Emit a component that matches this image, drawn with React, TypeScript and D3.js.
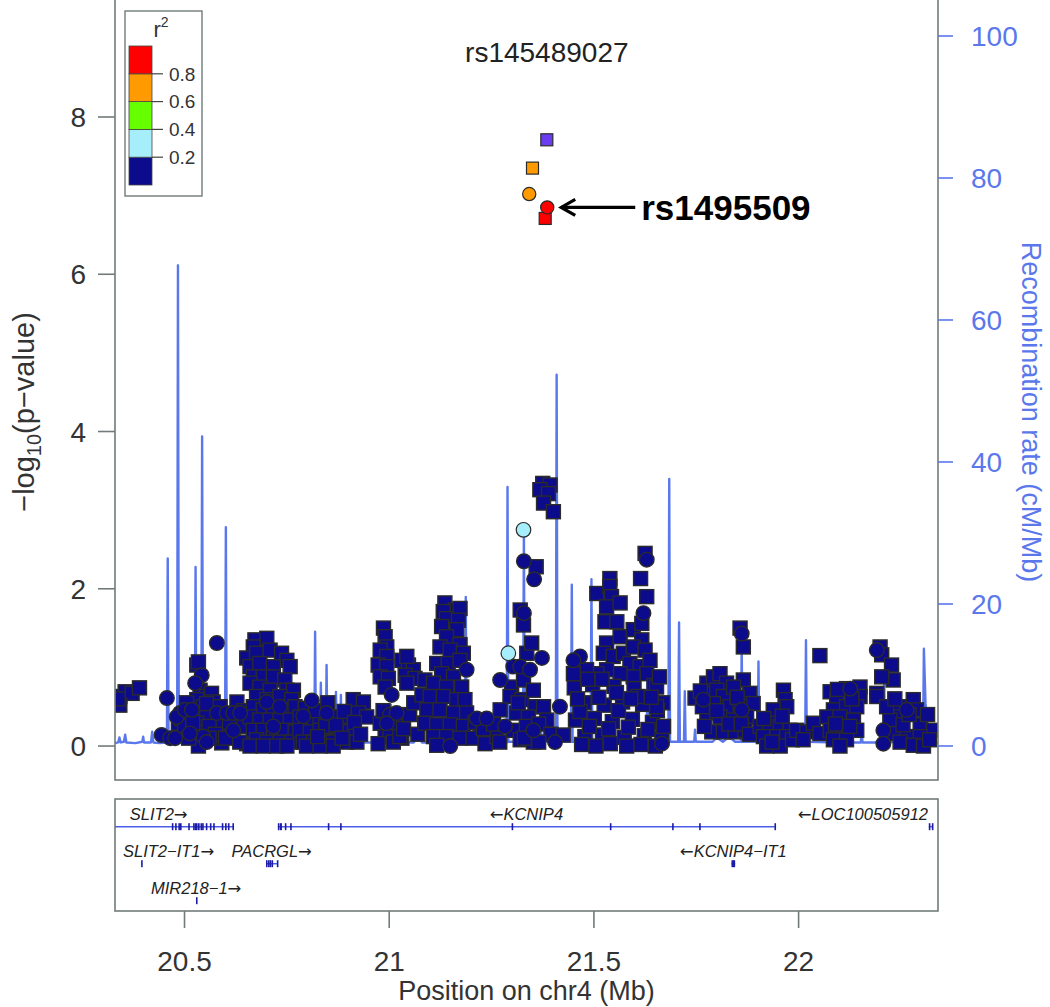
import React, { useEffect, useRef } from 'react'
import * as d3 from 'd3'

const W = 1050
const H = 1007

// lead SNP (title) and the annotated SNP
const leadSnp = 'rs145489027'
const leadPos = 21.385
const annotSnp = 'rs1495509'

const xTicks = [20.5, 21, 21.5, 22]
const yTicks = [0, 2, 4, 6, 8]
const recombTicks = [0, 20, 40, 60, 80, 100]

// r2 legend bins, bottom to top
const r2Breaks = [0.2, 0.4, 0.6, 0.8]
const r2Colors = ['#0b0b8c', '#a6eefb', '#66ff00', '#ff9a00', '#ff0000']
const leadColor = '#6a3df0'

// SNPs with r2 < 0.2 : [position Mb, -log10 p]
const lowSquares: number[][] = [
  [20.342,0.63],[20.355,0.69],[20.372,0.67],[20.390,0.74],[20.342,0.52],[20.338,0.6],
  [20.485,0.29],[20.493,0.35],[20.530,1.03],[20.534,1.07],[20.538,0.71],[20.554,0.63],[20.530,0.59],
  [20.546,0.50],[20.538,0.42],[20.554,0.37],[20.530,0.29],[20.542,0.18],[20.534,0.0],[20.566,0.67],
  [20.570,0.56],[20.554,0.54],[20.628,0.56],[20.587,0.50],[20.587,0.29],[20.619,0.29],[20.644,0.25],
  [20.595,0.12],[20.619,0.12],[20.591,0.04],[20.652,0.03],
  [20.500,0.25],[20.510,0.10],[20.520,0.30],[20.560,0.25],[20.575,0.15],[20.600,0.10],[20.610,0.30],
  [20.635,0.05],[20.645,0.45],[20.505,0.55],[20.560,0.10],
  [20.672,1.35],[20.701,1.37],[20.668,1.26],[20.652,1.12],[20.676,1.18],[20.709,1.22],[20.737,1.18],
  [20.750,1.09],[20.758,1.01],
  [20.660,1.01],[20.684,1.05],[20.717,1.01],[20.668,0.88],[20.692,0.88],[20.717,0.88],[20.745,0.84],
  [20.660,0.80],[20.684,0.75],[20.709,0.71],[20.750,0.71],[20.766,0.71],[20.676,0.63],[20.701,0.59],
  [20.733,0.63],[20.762,0.59],[20.668,0.50],[20.692,0.46],[20.717,0.46],[20.750,0.46],[20.770,0.50],
  [20.660,0.37],[20.684,0.33],[20.709,0.33],[20.733,0.33],[20.758,0.33],[20.668,0.20],[20.692,0.20],
  [20.717,0.18],[20.745,0.20],[20.770,0.18],[20.676,0.08],[20.701,0.05],[20.733,0.05],[20.762,0.05],
  [20.660,0.0],[20.692,0.0],[20.725,0.0],[20.750,0.0],
  [20.782,0.37],[20.807,0.33],[20.831,0.37],[20.855,0.33],[20.880,0.37],[20.782,0.20],[20.807,0.18],
  [20.831,0.20],[20.855,0.18],[20.880,0.20],[20.904,0.18],[20.790,0.05],[20.815,0.05],[20.839,0.05],
  [20.863,0.05],[20.896,0.05],[20.921,0.05],[20.798,0.0],[20.831,0.0],[20.863,0.0],[20.912,0.59],
  [20.937,0.56],[20.925,0.42],[20.945,0.37],
  [20.795,0.48],[20.820,0.45],[20.845,0.25],[20.870,0.27],[20.890,0.44],[20.915,0.30],[20.930,0.15],
  [20.885,0.10],[20.850,0.55],[20.825,0.12],
  [20.986,1.50],[20.990,1.39],[20.994,1.26],[20.978,1.22],[20.994,1.14],[20.973,1.03],[20.994,1.01],
  [20.978,0.88],[20.998,0.86],[20.990,0.75],[21.031,1.09],[21.047,1.03],[21.059,0.97],[21.039,0.90],
  [21.063,0.86],[21.043,0.80],[21.031,0.10],[21.087,0.29],[21.087,0.84],[20.978,0.29],[20.990,0.12],
  [21.002,0.20],[20.973,0.03],[21.010,0.05],[21.043,1.14],[21.026,0.37],[21.026,0.12],
  [20.985,0.45],[21.015,0.30],[21.035,0.22],[21.050,0.40],[21.070,0.15],[21.060,0.55],[21.080,0.65],
  [21.136,1.82],[21.161,1.73],[21.173,1.75],[21.132,1.71],[21.140,1.62],[21.169,1.60],[21.128,1.52],
  [21.165,1.48],[21.140,1.39],[21.173,1.29],[21.124,1.26],[21.149,1.22],[21.181,1.18],[21.116,1.05],
  [21.144,1.05],[21.173,1.09],[21.128,0.92],[21.157,0.88],[21.108,0.80],[21.140,0.75],[21.177,0.75],
  [21.100,0.63],[21.132,0.63],[21.165,0.59],[21.185,0.59],[21.092,0.46],[21.124,0.46],[21.157,0.42],
  [21.189,0.42],[21.087,0.29],[21.116,0.27],[21.149,0.27],[21.181,0.25],[21.108,0.12],[21.140,0.12],
  [21.173,0.10],[21.116,0.01],
  [21.222,0.20],[21.246,0.16],[21.205,0.10],[21.234,0.03],[21.263,0.12],
  [21.210,0.30],[21.230,0.22],[21.255,0.28],[21.270,0.05],
  [21.336,1.18],[21.348,1.31],[21.299,0.75],[21.328,0.84],[21.295,0.63],[21.324,0.59],[21.352,0.71],
  [21.356,0.50],[21.311,0.42],[21.340,0.37],[21.377,0.50],[21.385,0.33],[21.303,0.20],[21.320,0.08],
  [21.352,0.05],[21.271,0.46],[21.320,1.73],[21.328,1.54],[21.359,2.28],
  [21.315,0.55],[21.335,0.25],[21.365,0.28],[21.395,0.15],[21.330,0.10],[21.365,0.05],
  [21.375,3.34],[21.393,3.32],[21.368,3.26],[21.389,3.21],[21.377,3.09],[21.401,2.98],[21.425,0.14],
  [21.507,1.94],[21.539,2.13],[21.539,2.03],[21.543,1.90],[21.531,1.77],[21.564,1.82],[21.527,1.58],
  [21.556,1.58],[21.531,1.31],[21.564,1.39],[21.523,1.18],[21.547,1.14],[21.572,1.18],[21.596,1.48],
  [21.617,1.35],[21.596,1.26],[21.625,1.22],[21.588,1.05],[21.613,1.01],[21.637,1.09],[21.629,0.92],
  [21.596,0.88],[21.564,0.92],[21.531,0.97],[21.507,0.92],[21.482,0.97],[21.450,0.92],
  [21.625,2.45],[21.614,2.13],[21.629,1.90],[21.617,1.56],
  [21.452,0.74],[21.476,0.55],[21.497,0.78],[21.525,0.52],[21.549,0.76],[21.570,0.56],[21.598,0.73],
  [21.619,0.53],[21.647,0.77],[21.668,0.55],[21.455,0.33],[21.478,0.12],[21.501,0.35],[21.521,0.14],
  [21.545,0.31],[21.574,0.11],[21.594,0.34],[21.623,0.13],[21.643,0.30],[21.666,0.10],[21.466,0.44],
  [21.489,0.25],[21.512,0.62],[21.536,0.22],[21.560,0.45],[21.584,0.24],[21.608,0.63],[21.632,0.21],
  [21.655,0.45],[21.470,0.02],[21.505,0.0],[21.540,0.03],[21.580,0.0],[21.615,0.02],[21.650,0.0],
  [21.653,0.75],[21.653,0.50],[21.670,0.25],
  [21.460,0.60],[21.485,0.85],[21.520,0.85],[21.555,0.68],[21.590,0.60],[21.640,0.62],[21.660,0.88],
  [21.857,1.50],[21.865,1.26],[21.747,0.61],[21.776,0.80],[21.792,0.88],[21.808,0.92],[21.824,0.80],
  [21.865,0.84],[21.881,0.67],[21.889,0.54],[21.784,0.67],[21.800,0.71],[21.816,0.63],[21.841,0.75],
  [21.792,0.54],[21.832,0.50],[21.857,0.50],[21.776,0.42],[21.808,0.37],[21.841,0.33],[21.873,0.37],
  [21.788,0.18],[21.816,0.18],[21.845,0.18],[21.869,0.20],
  [21.760,0.70],[21.770,0.25],[21.800,0.45],[21.830,0.28],[21.850,0.62],[21.860,0.28],[21.880,0.15],
  [21.765,0.50],
  [21.963,0.71],[21.967,0.59],[21.971,0.50],[21.938,0.46],[21.906,0.25],[21.930,0.29],[21.955,0.25],
  [21.979,0.20],[21.914,0.12],[21.947,0.12],[21.971,0.12],[21.922,0.0],[21.955,0.0],
  [21.915,0.35],[21.935,0.05],[21.960,0.38],[21.985,0.08],
  [21.995,0.20],[22.020,0.18],[22.036,0.29],[22.052,0.16],[22.011,0.08],[22.052,1.15],
  [22.077,0.69],[22.117,0.73],[22.150,0.75],[22.150,0.63],[22.093,0.59],[22.085,0.46],[22.117,0.50],
  [22.142,0.50],[22.069,0.37],[22.101,0.37],[22.134,0.33],[22.077,0.20],[22.109,0.20],[22.142,0.20],
  [22.085,0.08],[22.117,0.08],[22.101,0.0],
  [22.090,0.28],[22.125,0.25],[22.130,0.60],[22.095,0.72],
  [22.199,1.26],[22.203,1.16],[22.227,1.03],[22.231,0.84],[22.203,0.88],[22.191,0.67],[22.191,0.63],
  [22.248,0.50],[22.280,0.59],[22.288,0.46],[22.240,0.37],[22.223,0.33],[22.297,0.27],[22.329,0.20],
  [22.231,0.16],[22.264,0.12],[22.297,0.12],[22.248,0.05],[22.280,0.01],[22.305,0.0],
  [22.215,0.50],[22.255,0.27],[22.270,0.40],[22.315,0.40],[22.320,0.08],[22.235,0.60]
]

const lowCircles: number[][] = [
  [20.457,0.61],[20.444,0.14],[20.465,0.10],[20.477,0.10],[20.489,0.42],[20.481,0.37],[20.501,0.46],
  [20.518,0.46],[20.542,0.90],[20.526,0.80],[20.546,0.12],[20.554,0.05],[20.513,0.16],[20.579,1.31],
  [20.579,0.42],[20.603,0.42],[20.619,0.42],[20.636,0.42],[20.619,0.20],[20.701,0.56],[20.733,0.50],
  [20.717,0.25],[20.811,0.58],[20.847,0.42],[20.790,0.38],[21.006,0.65],[21.002,0.40],[21.018,0.42],
  [20.994,0.29],[21.189,0.97],[21.149,0.0],[21.214,0.35],[21.238,0.35],[21.271,0.84],[21.303,1.01],
  [21.320,1.01],[21.344,0.97],[21.373,1.12],[21.329,1.69],[21.329,2.35],[21.354,2.12],[21.352,0.20],
  [21.283,0.25],[21.417,0.50],[21.405,0.05],[21.466,1.14],[21.450,1.09],[21.629,2.37],[21.621,1.69],
  [21.666,0.03],[21.861,1.43],[21.861,0.46],[21.767,0.59],[22.126,0.73],[22.191,1.22],[22.264,0.46],
  [22.207,0.20],[22.207,0.03]
]

// SNPs in LD : [position Mb, -log10 p, r2]
const ldSquares: number[][] = [
  [21.350, 7.35, 0.7],
  [21.381, 6.71, 0.9]
]
const ldCircles: number[][] = [
  [21.291, 1.18, 0.3],
  [21.328, 2.75, 0.3],
  [21.342, 7.02, 0.7],
  [21.386, 6.85, 0.9]
]
const leadSquare = [leadPos, 7.71]
const annotIndex = 3 // ldCircles entry that is rs1495509

// recombination rate : [position Mb, cM/Mb]
const recomb: number[][] = [
  [20.330,0.4],[20.338,0.5],[20.341,1.2],[20.344,0.5],[20.352,0.6],[20.355,1.6],[20.358,0.5],
  [20.380,0.4],[20.397,0.6],[20.399,1.3],[20.401,0.5],[20.418,0.5],[20.421,2.0],[20.424,0.5],
  [20.440,0.4],[20.457,0.5],[20.459,26.4],[20.461,0.6],[20.482,0.6],[20.484,67.7],[20.486,0.8],
  [20.512,0.6],[20.515,1.5],[20.520,0.6],[20.525,0.6],[20.527,25.2],[20.529,0.6],
  [20.541,0.6],[20.543,43.6],[20.545,0.6],[20.560,0.5],[20.575,1.2],[20.580,0.5],
  [20.599,0.5],[20.601,30.8],[20.603,0.6],[20.640,0.5],[20.700,0.7],[20.760,0.5],
  [20.817,0.5],[20.819,16.1],[20.821,0.6],[20.831,0.6],[20.833,8.9],[20.835,0.6],
  [20.845,0.6],[20.847,11.4],[20.849,0.6],[20.868,0.6],[20.870,7.6],[20.872,0.6],
  [20.880,0.6],[20.882,7.2],[20.884,0.6],[20.940,0.5],[21.002,0.5],[21.004,5.8],[21.006,0.6],
  [21.060,0.5],[21.070,1.5],[21.080,0.5],[21.185,0.5],[21.187,21.0],[21.189,0.6],
  [21.240,0.5],[21.287,0.5],[21.289,36.5],[21.291,0.6],[21.327,0.6],[21.329,31.0],[21.331,0.6],
  [21.360,0.6],[21.368,3.5],[21.374,0.6],[21.407,0.6],[21.409,52.3],[21.411,0.6],
  [21.444,0.6],[21.446,22.7],[21.448,0.6],[21.492,0.6],[21.494,23.5],[21.496,0.6],
  [21.560,0.5],[21.629,0.6],[21.631,14.7],[21.633,0.6],[21.682,0.6],[21.684,37.6],[21.686,0.6],
  [21.706,0.6],[21.708,17.4],[21.710,0.6],[21.720,0.6],[21.722,7.7],[21.724,0.6],
  [21.745,0.6],[21.747,2.3],[21.749,0.6],[21.790,0.6],[21.800,1.2],[21.815,0.6],[21.830,1.3],
  [21.845,0.6],[21.859,0.6],[21.861,14.0],[21.863,0.6],[21.900,0.6],[21.902,11.9],[21.904,0.6],
  [21.960,0.5],[22.016,0.5],[22.018,14.9],[22.020,0.6],[22.100,0.5],[22.152,0.5],[22.154,2.2],
  [22.156,0.5],[22.207,0.5],[22.209,9.6],[22.211,0.6],[22.260,0.5],[22.304,0.6],[22.306,13.7],
  [22.310,6.0],[22.316,2.5],[22.322,0.6],[22.340,0.5]
]

// genes : start/end in Mb, exons in Mb
type Gene = { name: string; start: number; end: number; strand: string; row: number; exons: number[][] }
const genes: Gene[] = [
  { name: 'SLIT2', start: 20.255, end: 20.619, strand: '+', row: 0, exons: [
    [20.469,20.4705],[20.477,20.478],[20.485,20.486],[20.489,20.490],[20.509,20.510],[20.521,20.5235],
    [20.525,20.532],[20.533,20.537],[20.539,20.541],[20.543,20.547],[20.552,20.554],[20.562,20.563],
    [20.570,20.571],[20.591,20.592],[20.599,20.600],[20.606,20.607],[20.617,20.619]] },
  { name: 'KCNIP4', start: 20.728, end: 21.942, strand: '-', row: 0, exons: [
    [20.728,20.731],[20.733,20.738],[20.745,20.746],[20.758,20.759],[20.850,20.851],[20.880,20.881],
    [21.299,21.300],[21.539,21.540],[21.691,21.692],[21.757,21.758],[21.941,21.942]] },
  { name: 'LOC100505912', start: 22.318, end: 22.327, strand: '-', row: 0, exons: [
    [22.318,22.3195],[22.3255,22.327]] },
  { name: 'SLIT2-IT1', start: 20.394, end: 20.395, strand: '+', row: 1, exons: [[20.394,20.395]] },
  { name: 'PACRGL', start: 20.699, end: 20.727, strand: '+', row: 1, exons: [
    [20.699,20.700],[20.704,20.7065],[20.708,20.7115],[20.7125,20.7135],[20.7255,20.7265]] },
  { name: 'KCNIP4-IT1', start: 21.836, end: 21.845, strand: '-', row: 1, exons: [[21.836,21.845]] },
  { name: 'MIR218-1', start: 20.528, end: 20.529, strand: '+', row: 2, exons: [[20.528,20.529]] }
]

const FONT = 'Liberation Sans, Arial, Helvetica, sans-serif'
const ARROW_FONT = 'DejaVu Sans, sans-serif'

export default function App() {
  const ref = useRef<SVGSVGElement>(null)

  useEffect(() => {
    const svg = d3.select(ref.current)
    svg.selectAll('*').remove()

    const left = 115, right = 938, top = -2, bottom = 780
    const geneTop = 799, geneBottom = 911
    const frameColor = '#717b7b'
    const recColor = '#5a78ec'
    const textColor = '#333'

    const x = d3.scaleLinear().domain([20.3302, 22.3405]).range([left, right])
    const y = d3.scaleLinear().domain([-0.432, 9.488]).range([bottom, 0])
    const yr = d3.scaleLinear().domain([-4.79, 105.07]).range([bottom, 0])
    const r2Color = d3.scaleThreshold<number, string>().domain(r2Breaks).range(r2Colors)

    svg.append('rect').attr('width', W).attr('height', H).attr('fill', '#fff')

    svg.append('clipPath').attr('id', 'plotClip')
      .append('rect').attr('x', left).attr('y', 0).attr('width', right - left).attr('height', bottom)

    // recombination line
    const line = d3.line<number[]>().x(d => x(d[0])).y(d => yr(d[1]))
    svg.append('path')
      .datum(recomb)
      .attr('clip-path', 'url(#plotClip)')
      .attr('d', line)
      .attr('fill', 'none')
      .attr('stroke', recColor)
      .attr('stroke-width', 2.4)
      .attr('stroke-linejoin', 'round')

    const pts = svg.append('g').attr('clip-path', 'url(#plotClip)')
    const sq = 14, cr = 7.3
    const strokeC = '#2b2b2b'

    pts.selectAll('rect.low').data(lowSquares).enter().append('rect')
      .attr('x', d => x(d[0]) - sq / 2).attr('y', d => y(d[1]) - sq / 2)
      .attr('width', sq).attr('height', sq)
      .attr('fill', r2Colors[0]).attr('stroke', strokeC).attr('stroke-width', 1.4)
    pts.selectAll('circle.low').data(lowCircles).enter().append('circle')
      .attr('cx', d => x(d[0])).attr('cy', d => y(d[1])).attr('r', cr)
      .attr('fill', r2Colors[0]).attr('stroke', strokeC).attr('stroke-width', 1.4)

    const hs = 12
    pts.selectAll('rect.ld').data(ldSquares).enter().append('rect')
      .attr('x', d => x(d[0]) - hs / 2).attr('y', d => y(d[1]) - hs / 2)
      .attr('width', hs).attr('height', hs)
      .attr('fill', d => r2Color(d[2])).attr('stroke', strokeC).attr('stroke-width', 1.2)
    pts.selectAll('circle.ld').data(ldCircles).enter().append('circle')
      .attr('cx', d => x(d[0])).attr('cy', d => y(d[1]))
      .attr('r', d => (d[2] < 0.4 ? cr : 6.6))
      .attr('fill', d => r2Color(d[2])).attr('stroke', strokeC).attr('stroke-width', 1.2)
    pts.append('rect')
      .attr('x', x(leadSquare[0]) - hs / 2).attr('y', y(leadSquare[1]) - hs / 2)
      .attr('width', hs).attr('height', hs)
      .attr('fill', leadColor).attr('stroke', strokeC).attr('stroke-width', 1.2)

    // frame
    svg.append('rect').attr('x', left).attr('y', top).attr('width', right - left).attr('height', bottom - top)
      .attr('fill', 'none').attr('stroke', frameColor).attr('stroke-width', 1.6)

    // left axis
    const la = svg.append('g')
    yTicks.forEach(t => {
      la.append('line').attr('x1', 98).attr('x2', left).attr('y1', y(t)).attr('y2', y(t))
        .attr('stroke', frameColor).attr('stroke-width', 1.6)
      la.append('text').attr('x', 86).attr('y', y(t)).attr('dy', '0.36em')
        .attr('text-anchor', 'end').attr('font-family', FONT).attr('font-size', 28)
        .attr('fill', textColor).text(t)
    })
    const yl = svg.append('text')
      .attr('transform', 'translate(24,412) rotate(-90)')
      .attr('text-anchor', 'middle').attr('dy', '0.36em')
      .attr('font-family', FONT).attr('font-size', 29).attr('fill', textColor)
    yl.append('tspan').text('\u2212log')
    yl.append('tspan').attr('font-size', 20).attr('dy', 7).text('10')
    yl.append('tspan').attr('dy', -7).text('(p\u2212value)')

    // right axis
    const ra = svg.append('g')
    recombTicks.forEach(t => {
      ra.append('line').attr('x1', right).attr('x2', 953).attr('y1', yr(t)).attr('y2', yr(t))
        .attr('stroke', recColor).attr('stroke-width', 1.6)
      ra.append('text').attr('x', 971).attr('y', yr(t)).attr('dy', '0.36em')
        .attr('font-family', FONT).attr('font-size', 28).attr('fill', recColor).text(t)
    })
    svg.append('text')
      .attr('transform', 'translate(1031,412) rotate(90)')
      .attr('text-anchor', 'middle').attr('dy', '0.34em')
      .attr('font-family', FONT).attr('font-size', 27).attr('fill', recColor)
      .text('Recombination rate (cM/Mb)')

    // title
    svg.append('text').attr('x', x(leadPos)).attr('y', 62).attr('text-anchor', 'middle')
      .attr('font-family', FONT).attr('font-size', 28).attr('fill', '#222').text(leadSnp)

    // annotation arrow
    const a = ldCircles[annotIndex]
    const ax = x(a[0]) + 14, ay = y(a[1])
    const ann = svg.append('g').attr('stroke', '#000').attr('stroke-width', 3.2).attr('fill', 'none')
    ann.append('line').attr('x1', ax).attr('x2', ax + 74).attr('y1', ay).attr('y2', ay)
    ann.append('path').attr('d', `M${ax + 14},${ay - 8}L${ax},${ay}L${ax + 14},${ay + 8}`)
      .attr('stroke-linejoin', 'miter')
    svg.append('text').attr('x', ax + 80).attr('y', ay).attr('dy', '0.36em')
      .attr('font-family', FONT).attr('font-size', 35).attr('font-weight', 'bold')
      .attr('fill', '#000').text(annotSnp)

    // legend
    const lg = svg.append('g')
    lg.append('rect').attr('x', 125).attr('y', 11).attr('width', 77).attr('height', 185)
      .attr('fill', '#fff').attr('stroke', frameColor).attr('stroke-width', 1.4)
    const ly = d3.scaleLinear().domain([0, 1]).range([185, 46])
    const bins = [0, ...r2Breaks, 1]
    r2Colors.forEach((c, i) => {
      lg.append('rect').attr('x', 129).attr('y', ly(bins[i + 1])).attr('width', 23)
        .attr('height', ly(bins[i]) - ly(bins[i + 1]))
        .attr('fill', c).attr('stroke', '#444').attr('stroke-width', 0.8)
    })
    r2Breaks.forEach(b => {
      lg.append('line').attr('x1', 152).attr('x2', 163).attr('y1', ly(b)).attr('y2', ly(b))
        .attr('stroke', '#444').attr('stroke-width', 1.2)
      lg.append('text').attr('x', 169).attr('y', ly(b)).attr('dy', '0.36em')
        .attr('font-family', FONT).attr('font-size', 19).attr('fill', textColor).text(b)
    })
    const r2t = lg.append('text').attr('x', 161).attr('y', 37).attr('text-anchor', 'middle')
      .attr('font-family', FONT).attr('font-size', 22).attr('fill', textColor)
    r2t.append('tspan').text('r')
    r2t.append('tspan').attr('font-size', 14).attr('dy', -10).text('2')

    // gene track
    svg.append('rect').attr('x', left).attr('y', geneTop).attr('width', right - left)
      .attr('height', geneBottom - geneTop)
      .attr('fill', 'none').attr('stroke', frameColor).attr('stroke-width', 1.6)
    svg.append('clipPath').attr('id', 'geneClip')
      .append('rect').attr('x', left).attr('y', geneTop).attr('width', right - left)
      .attr('height', geneBottom - geneTop)
    const gg = svg.append('g')
    const rowY = (r: number) => 826.7 + r * 37
    genes.forEach(g => {
      const gy = rowY(g.row)
      const body = gg.append('g').attr('clip-path', 'url(#geneClip)')
      body.append('line').attr('x1', x(g.start)).attr('x2', x(g.end)).attr('y1', gy).attr('y2', gy)
        .attr('stroke', '#4a5ee8').attr('stroke-width', 1.5)
      g.exons.forEach(e => {
        const w = Math.max(x(e[1]) - x(e[0]), 1.6)
        body.append('rect').attr('x', x(e[0])).attr('y', gy - 3.5).attr('width', w).attr('height', 7)
          .attr('fill', '#1c1ca8')
      })
      const name = g.name.replace(/-/g, '\u2212')
      const t = gg.append('text').attr('y', gy - 13).attr('dy', '0.36em')
        .attr('text-anchor', 'middle').attr('font-family', FONT).attr('font-size', 16.5)
        .attr('font-style', 'italic').attr('fill', '#222')
      if (g.strand === '+') {
        t.append('tspan').text(name)
        t.append('tspan').attr('font-family', ARROW_FONT).attr('font-style', 'normal').text('\u2192')
      } else {
        t.append('tspan').attr('font-family', ARROW_FONT).attr('font-style', 'normal').text('\u2190')
        t.append('tspan').text(name)
      }
      const tw = (t.node() as SVGTextElement).getComputedTextLength()
      let cx = x((g.start + g.end) / 2)
      cx = Math.max(cx, left + 8 + tw / 2)
      cx = Math.min(cx, right - 10 - tw / 2)
      t.attr('x', cx)
    })

    // x axis
    const xa = svg.append('g')
    xTicks.forEach(t => {
      xa.append('line').attr('x1', x(t)).attr('x2', x(t)).attr('y1', geneBottom).attr('y2', 928)
        .attr('stroke', frameColor).attr('stroke-width', 1.6)
      xa.append('text').attr('x', x(t)).attr('y', 961).attr('dy', '0.36em')
        .attr('text-anchor', 'middle').attr('font-family', FONT).attr('font-size', 28)
        .attr('fill', textColor).text(t)
    })
    svg.append('text').attr('x', (left + right) / 2).attr('y', 990).attr('dy', '0.36em')
      .attr('text-anchor', 'middle').attr('font-family', FONT).attr('font-size', 27)
      .attr('fill', textColor).text('Position on chr4 (Mb)')
  }, [])

  return (
    <svg ref={ref} width={W} height={H}
      style={{ position: 'absolute', left: 0, top: 0, display: 'block' }} />
  )
}
